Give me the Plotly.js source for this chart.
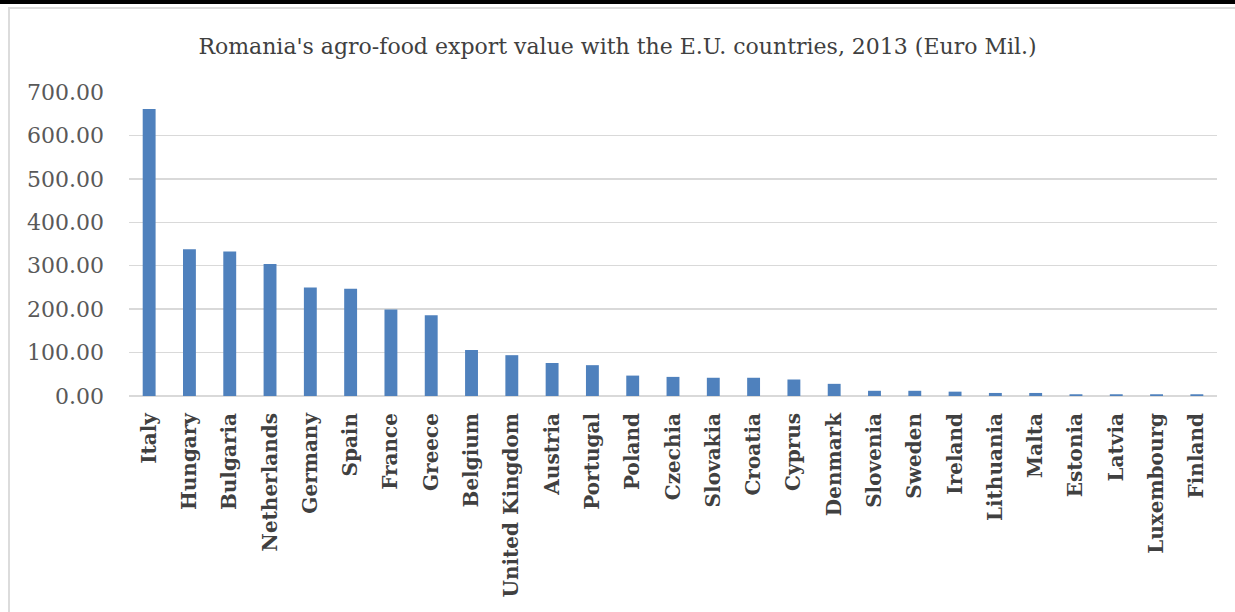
<!DOCTYPE html>
<html>
<head>
<meta charset="utf-8">
<script src="https://cdn.plot.ly/plotly-3.0.1.min.js"></script>
<style>
  html, body { margin: 0; padding: 0; background: #ffffff; }
  #wrap { position: relative; width: 1235px; height: 612px; overflow: hidden; }
  #chart { position: absolute; left: 0; top: 0; width: 1235px; height: 612px; }
  #topband { position: absolute; left: 0; top: 0; width: 1235px; height: 4px; background: #000; z-index: 5; }
  #topline { position: absolute; left: 8px; top: 7px; width: 1227px; height: 2px; background: #dcdcdc; z-index: 5; }
  #leftline { position: absolute; left: 8px; top: 7px; width: 2px; height: 605px; background: #dcdcdc; z-index: 5; }
</style>
</head>
<body>
<div id="wrap">
  <div id="chart"></div>
  <div id="topband"></div>
  <div id="topline"></div>
  <div id="leftline"></div>
</div>
<script>
const countries = ["Italy","Hungary","Bulgaria","Netherlands","Germany","Spain","France","Greece","Belgium","United Kingdom","Austria","Portugal","Poland","Czechia","Slovakia","Croatia","Cyprus","Denmark","Slovenia","Sweden","Ireland","Lithuania","Malta","Estonia","Latvia","Luxembourg","Finland"];
const exportValues = [661, 338, 333, 304, 250, 247, 199, 186, 106, 94, 76, 71, 47, 44, 42, 42, 38, 28, 12, 12, 10, 7, 7, 4, 4, 4, 4];
const yTickValues = [0, 100, 200, 300, 400, 500, 600, 700];
const yTickLabels = ["0.00", "100.00", "200.00", "300.00", "400.00", "500.00", "600.00", "700.00"];
const chartTitle = "Romania's agro-food export value with the E.U. countries, 2013 (Euro Mil.)";

const trace = {
  type: 'bar',
  x: countries,
  y: exportValues,
  marker: { color: '#4f81bd' },
  width: 0.32,
  hoverinfo: 'x+y'
};

const layout = {
  width: 1235,
  height: 612,
  paper_bgcolor: '#ffffff',
  plot_bgcolor: '#ffffff',
  margin: { l: 129, r: 18, t: 92, b: 216 },
  showlegend: false,
  title: {
    text: chartTitle,
    font: { family: 'DejaVu Serif', size: 22, color: '#404040' },
    x: 0.5, xanchor: 'center',
    y: 1 - 46 / 612, yanchor: 'middle', yref: 'container'
  },
  xaxis: {
    type: 'category',
    tickangle: -90,
    tickfont: { family: 'DejaVu Serif', size: 20, color: '#404040', weight: 'bold' },
    showgrid: false,
    showline: false,
    ticks: '',
    ticklabelstandoff: 12,
    range: [-0.5, countries.length - 0.5]
  },
  yaxis: {
    range: [0, 700],
    tickvals: yTickValues,
    ticktext: yTickLabels,
    tickfont: { family: 'DejaVu Serif', size: 22, color: '#595959' },
    showgrid: true,
    gridcolor: '#d9d9d9',
    gridwidth: 1.5,
    zeroline: true,
    zerolinecolor: '#d9d9d9',
    zerolinewidth: 1.5,
    showline: false,
    ticks: '',
    ticklabelstandoff: 24
  },
  bargap: 0.68
};

Plotly.newPlot('chart', [trace], layout, { displayModeBar: false, staticPlot: true });
</script>
</body>
</html>
